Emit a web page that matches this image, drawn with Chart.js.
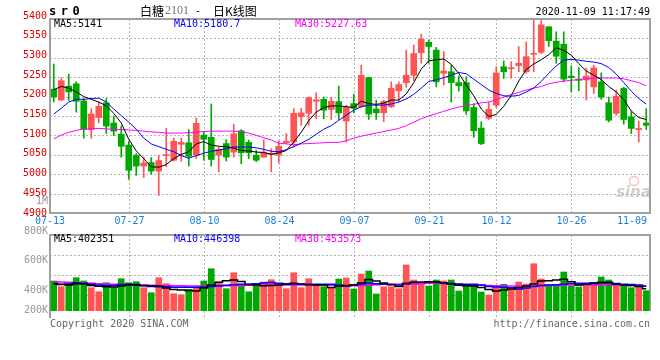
<!DOCTYPE html>
<html>
<head>
<meta charset="utf-8">
<script src="https://cdn.jsdelivr.net/npm/chart.js@4/dist/chart.umd.min.js"></script>
<style>
html, body { margin: 0; padding: 0; background: #fff; }
#wrap { position: relative; width: 660px; height: 360px; }
#wrap canvas { position: absolute; left: 0; top: 0; }
</style>
</head>
<body>
<div id="wrap">
  <canvas id="price" width="660" height="360"></canvas>
  <canvas id="vol" width="660" height="360"></canvas>
</div>
<script>
// trading days shown on the chart
const days = [
  '07-13','07-14','07-15','07-16','07-17','07-20','07-21','07-22','07-23','07-24',
  '07-27','07-28','07-29','07-30','07-31','08-03','08-04','08-05','08-06','08-07',
  '08-10','08-11','08-12','08-13','08-14','08-17','08-18','08-19','08-20','08-21',
  '08-24','08-25','08-26','08-27','08-28','08-31','09-01','09-02','09-03','09-04',
  '09-07','09-08','09-09','09-10','09-11','09-14','09-15','09-16','09-17','09-18',
  '09-21','09-22','09-23','09-24','09-25','09-28','09-29','09-30','10-09','10-12',
  '10-13','10-14','10-15','10-16','10-19','10-20','10-21','10-22','10-23','10-26',
  '10-27','10-28','10-29','10-30','11-02','11-03','11-04','11-05','11-06','11-09'
];
const dateTicks = ['07-13','07-27','08-10','08-24','09-07','09-21','10-12','10-26','11-09'];
const priceTicks = [5400,5350,5300,5250,5200,5150,5100,5050,5000,4950,4900];
const volTickLabels = ['1M','800K','600K','400K','200K'];

const opens = [
  5219,5191,5227,5233,5189,5115,5146,5184,5132,5103,
  5075,5049,5021,5030,5008,5048,5036,5077,5081,5050,
  5101,5095,5049,5079,5057,5112,5082,5049,5044,5051,
  5049,5081,5083,5148,5157,5188,5193,5167,5187,5137,
  5182,5174,5249,5168,5158,5174,5215,5236,5255,5313,
  5340,5320,5260,5264,5236,5236,5172,5119,5144,5178,
  5277,5272,5280,5264,5309,5314,5380,5343,5335,5253,
  5245,5243,5225,5238,5184,5157,5221,5148,5115,5132
];
const closes = [
  5199,5241,5212,5188,5115,5155,5175,5124,5111,5072,
  5010,5021,5029,5008,5035,5050,5085,5082,5046,5131,
  5090,5038,5064,5044,5104,5055,5055,5036,5057,5054,
  5072,5085,5157,5158,5197,5192,5165,5188,5158,5172,
  5170,5255,5155,5158,5188,5221,5231,5255,5311,5348,
  5329,5238,5266,5236,5228,5163,5112,5079,5167,5261,
  5264,5274,5286,5303,5311,5385,5344,5304,5245,5249,
  5242,5253,5274,5199,5139,5201,5141,5118,5118,5126
];
const highs = [
  5284,5248,5258,5238,5195,5169,5186,5195,5150,5124,
  5085,5053,5044,5043,5049,5118,5093,5093,5115,5145,
  5109,5181,5070,5089,5129,5115,5088,5062,5089,5066,
  5086,5105,5169,5170,5199,5210,5199,5198,5227,5178,
  5206,5281,5250,5191,5191,5238,5238,5320,5333,5361,
  5346,5327,5316,5281,5253,5251,5182,5135,5186,5277,
  5292,5290,5329,5341,5400,5396,5380,5367,5367,5279,
  5275,5273,5281,5261,5199,5217,5224,5161,5137,5169
];
const lows = [
  5186,5190,5190,5160,5093,5093,5132,5105,5099,5044,
  4987,4997,4991,5000,4945,5019,5034,5033,5021,5040,
  5036,5021,5006,5034,5044,5027,5040,5032,5043,5006,
  5029,5079,5070,5126,5126,5143,5143,5141,5141,5083,
  5158,5172,5141,5141,5135,5172,5186,5224,5241,5286,
  5286,5225,5230,5186,5214,5154,5095,5076,5141,5172,
  5247,5247,5264,5260,5264,5311,5329,5286,5238,5212,
  5215,5191,5208,5193,5135,5152,5129,5105,5083,5115
];
const ma5 = [
  5218,5226,5222,5212,5200,5193,5186,5176,5157,5132,
  5090,5060,5040,5019,5018,5025,5040,5051,5058,5078,
  5084,5075,5072,5071,5067,5061,5060,5057,5056,5051,
  5055,5061,5083,5108,5138,5160,5172,5176,5176,5174,
  5172,5188,5182,5180,5183,5191,5191,5207,5236,5271,
  5292,5295,5297,5283,5260,5230,5202,5168,5149,5154,
  5175,5203,5240,5270,5284,5295,5308,5326,5319,5307,
  5285,5266,5255,5244,5226,5212,5192,5163,5146,5141
];
const ma10 = [
  5155,5170,5186,5193,5193,5195,5196,5186,5168,5151,
  5134,5116,5093,5078,5071,5064,5058,5048,5041,5048,
  5054,5059,5062,5066,5070,5070,5070,5068,5064,5059,
  5058,5063,5071,5080,5090,5103,5116,5125,5139,5152,
  5165,5174,5178,5178,5178,5181,5186,5194,5206,5222,
  5239,5243,5249,5255,5262,5259,5245,5231,5217,5208,
  5202,5201,5203,5212,5222,5239,5260,5279,5294,5296,
  5294,5291,5289,5285,5275,5258,5236,5214,5195,5180.7
];
const ma30 = [
  5091,5101,5108,5113,5116,5117,5118,5117,5115,5115,
  5114,5113,5111,5109,5108,5106,5106,5106,5107,5108,
  5110,5111,5111,5111,5111,5109,5106,5100,5094,5088,
  5080,5078,5076,5078,5079,5080,5081,5082,5082,5086,
  5093,5098,5102,5106,5110,5114,5118,5125,5134,5143,
  5150,5156,5162,5168,5173,5177,5180,5184,5186,5192,
  5199,5205,5211,5217,5222,5226,5233,5237,5240,5242,
  5244,5246,5247,5248,5248,5248,5246,5241,5236,5227.63
];

const volumes = [
  540000,437000,499000,599000,540000,419000,347000,509000,419000,581000,
  509000,527000,419000,329000,599000,491000,311000,293000,391000,409000,
  540000,761000,522000,401000,689000,481000,347000,450000,522000,563000,
  463000,401000,689000,419000,581000,468000,437000,419000,576000,594000,
  396000,666000,720000,306000,437000,437000,401000,828000,558000,517000,
  450000,558000,540000,558000,360000,481000,481000,342000,288000,437000,
  481000,423000,522000,486000,851000,576000,468000,477000,702000,450000,
  432000,482000,513000,612000,558000,482000,468000,419000,437000,365000
];
const volMa5 = [
  495000,477000,468000,491000,486000,459000,445000,436000,432000,450000,
  468000,468000,459000,450000,450000,414000,387000,378000,369000,360000,
  414000,468000,517000,544000,558000,531000,477000,468000,455000,459000,
  468000,486000,499000,486000,473000,468000,468000,423000,450000,459000,
  468000,504000,567000,540000,504000,477000,441000,495000,517000,517000,
  526000,522000,504000,486000,464000,454000,450000,423000,387000,360000,
  378000,396000,423000,450000,486000,540000,545000,558000,571000,527000,
  468000,481000,495000,508000,517000,481000,468000,459000,441000,402351
];
const volMa10 = [
  481000,481000,486000,508000,500000,482000,468000,459000,459000,477000,
  481000,477000,455000,441000,437000,436000,428000,427000,427000,427000,
  432000,441000,455000,464000,473000,481000,481000,490000,504000,513000,
  499000,486000,481000,481000,481000,481000,481000,481000,468000,450000,
  468000,486000,504000,490000,481000,473000,468000,495000,513000,517000,
  517000,517000,504000,495000,486000,482000,481000,468000,441000,432000,
  427000,419000,396000,414000,441000,459000,468000,473000,481000,495000,
  499000,499000,508000,517000,504000,495000,481000,477000,468000,446398
];
const volMa30 = [
  527000,522000,517000,510000,504000,499000,490000,485000,481000,477000,
  472000,468000,468000,464000,460000,457000,455000,453000,451000,450000,
  450000,450000,452000,455000,458000,461000,464000,466000,468000,468000,
  468000,468000,468000,468000,468000,468000,466000,462000,458000,455000,
  455000,458000,464000,472000,481000,481000,481000,481000,485000,492000,
  499000,499000,495000,488000,481000,472000,468000,465000,460000,455000,
  453000,451000,450000,450000,451000,453000,457000,461000,466000,468000,
  468000,468000,468000,468000,468000,466000,462000,458000,455000,453573
];

const UP = '#ff5454';
const DOWN = '#00a800';
const candleColors = opens.map((o, i) => closes[i] >= o ? UP : DOWN);
const MONO = '10px "DejaVu Sans Mono"';
const GRID = '#b4b4b4';
const FRAME = '#a0a0a0';

const dottedLine = (ctx, x1, y1, x2, y2) => {
  ctx.moveTo(x1, y1);
  ctx.lineTo(x2, y2);
};

const pricePanel = {
  id: 'pricePanel',
  beforeDatasetsDraw(chart) {
    const { ctx, chartArea: a, scales: { x, y } } = chart;
    ctx.save();
    ctx.strokeStyle = GRID;
    ctx.lineWidth = 1;
    ctx.setLineDash([2, 2]);
    ctx.beginPath();
    for (const v of priceTicks) {
      const py = Math.round(y.getPixelForValue(v)) + 0.5;
      dottedLine(ctx, a.left, py, a.right, py);
    }
    for (const d of dateTicks.slice(1, -1)) {
      const px = Math.round(x.getPixelForValue(days.indexOf(d))) + 0.5;
      dottedLine(ctx, px, a.top, px, a.bottom);
      dottedLine(ctx, px, 235, px, 318);
    }
    ctx.stroke();
    ctx.restore();
  },
  afterDraw(chart) {
    const { ctx, chartArea: a, scales: { x, y } } = chart;
    ctx.save();
    ctx.strokeStyle = FRAME;
    ctx.lineWidth = 2;
    ctx.strokeRect(a.left, a.top, a.right - a.left, a.bottom - a.top);
    // volume frame
    ctx.beginPath();
    ctx.moveTo(a.left, 318);
    ctx.lineTo(a.left, 235);
    ctx.lineTo(a.right, 235);
    ctx.lineTo(a.right, 311);
    ctx.stroke();

    ctx.font = MONO;
    ctx.textBaseline = 'middle';

    // price axis labels
    ctx.textAlign = 'right';
    ctx.fillStyle = '#e00000';
    for (const v of priceTicks) {
      const py = y.getPixelForValue(v) - 3 * (v - 4900) / 500;
      ctx.fillText(String(v), 47, py);
    }
    // volume axis labels
    ctx.fillStyle = '#999';
    const volLabelY = [201, 231, 260, 290, 310];
    volTickLabels.forEach((t, i) => ctx.fillText(t, 48, volLabelY[i]));

    // date labels
    ctx.fillStyle = '#1a7fd4';
    dateTicks.forEach((d, i) => {
      if (i === 0) {
        ctx.textAlign = 'center';
        ctx.fillText(d, a.left, 221);
      } else if (i === dateTicks.length - 1) {
        ctx.textAlign = 'right';
        ctx.fillText(d, a.right - 3, 221);
      } else {
        ctx.textAlign = 'center';
        ctx.fillText(d, Math.round(x.getPixelForValue(days.indexOf(d))) + 0.5, 221);
      }
    });

    // legends
    ctx.textAlign = 'left';
    const legend = (t, c, px, py) => { ctx.fillStyle = c; ctx.fillText(t, px, py); };
    legend('MA5:' + ma5[ma5.length - 1], '#000', 54, 24);
    legend('MA10:' + ma10[ma10.length - 1], '#0000ff', 174, 24);
    legend('MA30:' + ma30[ma30.length - 1], '#ff00ff', 295, 24);
    legend('MA5:' + volMa5[volMa5.length - 1], '#000', 54, 239);
    legend('MA10:' + volMa10[volMa10.length - 1], '#0000ff', 174, 239);
    legend('MA30:' + volMa30[volMa30.length - 1], '#ff00ff', 295, 239);

    // header
    ctx.fillStyle = '#000';
    ctx.font = 'bold 12px "DejaVu Sans Mono"';
    ['s', 'r', '0'].forEach((ch, i) => ctx.fillText(ch, 49 + i * 11.7, 12));
    ctx.font = '12px "Noto Sans CJK SC"';
    ctx.fillText('白糖', 140, 11);
    ctx.fillStyle = '#777';
    ctx.font = '12px "Liberation Serif"';
    ctx.fillText('2101', 165, 11);
    ctx.fillStyle = '#000';
    ctx.font = MONO;
    ctx.fillText('-', 195, 11);
    ctx.font = '12px "Noto Sans CJK SC"';
    ctx.fillText('日K线图', 213, 11);
    ctx.font = MONO;
    ctx.textAlign = 'right';
    ctx.fillText('2020-11-09 11:17:49', 650, 12);

    // footer
    ctx.fillStyle = '#666';
    ctx.textAlign = 'left';
    ctx.fillText('Copyright 2020 SINA.COM', 50, 324);
    ctx.textAlign = 'right';
    ctx.fillText('http://finance.sina.com.cn', 650, 324);

    // watermark
    ctx.globalAlpha = 0.55;
    ctx.strokeStyle = '#f09090';
    ctx.lineWidth = 1.5;
    ctx.beginPath();
    ctx.arc(634, 181, 4.5, 0, Math.PI * 2);
    ctx.stroke();
    ctx.fillStyle = '#a8a8a8';
    ctx.font = 'italic bold 15px "DejaVu Sans"';
    ctx.textAlign = 'left';
    ctx.fillText('sina', 616, 193);
    ctx.restore();
  }
};

const volPanel = {
  id: 'volPanel',
  beforeDatasetsDraw(chart) {
    const { ctx, chartArea: a } = chart;
    ctx.save();
    ctx.strokeStyle = GRID;
    ctx.lineWidth = 1;
    ctx.setLineDash([2, 2]);
    ctx.beginPath();
    for (let k = 1; k <= 3; k++) {
      const py = a.top + 20 * k + 0.5;
      dottedLine(ctx, a.left, py, a.right, py);
    }
    ctx.stroke();
    ctx.restore();
  }
};

const maLine = (label, data, color, extra = {}) => ({
  type: 'line', label, data,
  borderColor: color, borderWidth: 1,
  pointRadius: 0, tension: 0, order: 1, ...extra
});

new Chart(document.getElementById('price'), {
  type: 'bar',
  data: {
    labels: days,
    datasets: [
      {
        label: 'wick', data: lows.map((l, i) => [l, highs[i]]),
        backgroundColor: candleColors, barThickness: 1, grouped: false, order: 3
      },
      {
        label: 'body', data: opens.map((o, i) => [o, closes[i]]),
        backgroundColor: candleColors, barThickness: 6, minBarLength: 1, grouped: false, order: 2
      },
      maLine('MA5', ma5, '#000000'),
      maLine('MA10', ma10, '#0000ff'),
      maLine('MA30', ma30, '#ff00ff')
    ]
  },
  options: {
    responsive: false, animation: false, devicePixelRatio: 1,
    layout: { padding: { left: 50, right: 10, top: 19, bottom: 147 } },
    plugins: { legend: { display: false }, tooltip: { enabled: false } },
    scales: {
      x: { type: 'category', display: false, offset: true },
      y: { type: 'linear', display: false, min: 4900, max: 5400 }
    }
  },
  plugins: [pricePanel]
});

new Chart(document.getElementById('vol'), {
  type: 'bar',
  data: {
    labels: days,
    datasets: [
      {
        label: 'volume', data: volumes,
        backgroundColor: candleColors, barThickness: 6, grouped: false, order: 2
      },
      maLine('MA5', volMa5, '#000000', { borderWidth: 1.5, stepped: 'middle' }),
      maLine('MA10', volMa10, '#0000ff', { borderWidth: 1.5, stepped: 'middle' }),
      maLine('MA30', volMa30, '#ff00ff', { borderWidth: 1.5, stepped: 'middle' })
    ]
  },
  options: {
    responsive: false, animation: false, devicePixelRatio: 1,
    layout: { padding: { left: 50, right: 10, top: 235, bottom: 49 } },
    plugins: { legend: { display: false }, tooltip: { enabled: false } },
    scales: {
      x: { type: 'category', display: false, offset: true },
      y: { type: 'linear', display: false, min: 0, max: 1368000 }
    }
  },
  plugins: [volPanel]
});
</script>
</body>
</html>
